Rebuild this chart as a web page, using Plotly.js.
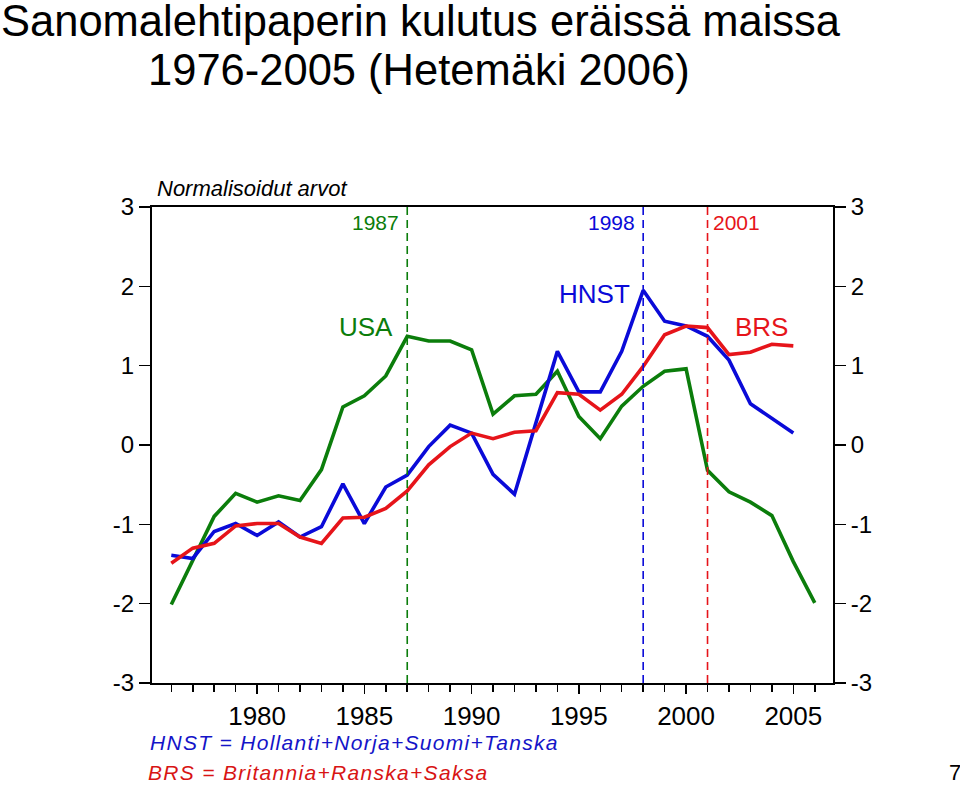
<!DOCTYPE html>
<html>
<head>
<meta charset="utf-8">
<script src="https://cdn.plot.ly/plotly-3.0.1.min.js"></script>
<style>html,body{margin:0;padding:0;background:#fff;}#chart{width:960px;height:786px;}</style>
</head>
<body>
<div id="chart"></div>
<script>
// ---- data ----
const yearsUSA = [1976,1977,1978,1979,1980,1981,1982,1983,1984,1985,1986,1987,1988,1989,1990,1991,1992,1993,1994,1995,1996,1997,1998,1999,2000,2001,2002,2003,2004,2005,2006];
const usa = [-2.01,-1.45,-0.90,-0.61,-0.72,-0.64,-0.70,-0.31,0.48,0.62,0.87,1.37,1.31,1.31,1.20,0.39,0.62,0.64,0.93,0.36,0.08,0.49,0.74,0.93,0.96,-0.32,-0.59,-0.72,-0.89,-1.47,-1.99];
const yearsEU = [1976,1977,1978,1979,1980,1981,1982,1983,1984,1985,1986,1987,1988,1989,1990,1991,1992,1993,1994,1995,1996,1997,1998,1999,2000,2001,2002,2003,2004,2005];
const hnst = [-1.39,-1.43,-1.09,-0.99,-1.14,-0.97,-1.16,-1.03,-0.49,-0.99,-0.53,-0.38,-0.02,0.25,0.15,-0.37,-0.62,0.29,1.18,0.67,0.67,1.18,1.95,1.56,1.50,1.37,1.07,0.52,0.34,0.15];
const brs = [-1.49,-1.30,-1.24,-1.02,-0.99,-0.99,-1.16,-1.24,-0.92,-0.91,-0.80,-0.58,-0.25,-0.02,0.15,0.08,0.16,0.18,0.66,0.64,0.44,0.64,0.99,1.39,1.50,1.48,1.14,1.17,1.27,1.25];
const xTickYears = [1980,1985,1990,1995,2000,2005];
const xTickLabels = ["1980","1985","1990","1995","2000","2005"];
const yTickVals = [-3,-2,-1,0,1,2,3];
const yTickLabels = ["-3","-2","-1","0","1","2","3"];
const breakYears = [1987,1998,2001];
const breakLabels = ["1987","1998","2001"];

const GREEN = '#0b7d0b', BLUE = '#0a0ad8', RED = '#e6141a';
const breakColors = [GREEN, BLUE, RED];
const FONT = 'Liberation Sans, Arial, Helvetica, sans-serif';

const traces = [
  {x: yearsUSA, y: usa, type:'scatter', mode:'lines', line:{color:GREEN, width:3.6}, name:'USA', hoverinfo:'skip'},
  {x: yearsEU, y: hnst, type:'scatter', mode:'lines', line:{color:BLUE, width:3.6}, name:'HNST', hoverinfo:'skip'},
  {x: yearsEU, y: brs, type:'scatter', mode:'lines', line:{color:RED, width:3.6}, name:'BRS', hoverinfo:'skip'},
  // invisible helper so that the right-hand axis is drawn with its ticks
  {x: yearsEU, y: brs, yaxis:'y2', type:'scatter', mode:'lines', line:{color:'rgba(0,0,0,0)', width:0}, showlegend:false, hoverinfo:'skip'}
];

const shapes = breakYears.map((yr,i)=>({
  type:'line', xref:'x', yref:'paper', x0:yr, x1:yr, y0:0, y1:1,
  line:{color:breakColors[i], width:1.6, dash:'8px,5px'}
}));

const annotations = [
  {xref:'paper', yref:'paper', x:-0.2225, y:1.390, xanchor:'left', yanchor:'middle', showarrow:false, borderpad:0,
   text:'Sanomalehtipaperin kulutus eräissä maissa', font:{family:FONT, size:43.5, color:'#000'}},
  {xref:'paper', yref:'paper', x:-0.008, y:1.287, xanchor:'left', yanchor:'middle', showarrow:false, borderpad:0,
   text:'1976-2005 (Hetemäki 2006)', font:{family:FONT, size:43.5, color:'#000'}},
  {xref:'paper', yref:'paper', x:0.004, y:1.038, xanchor:'left', yanchor:'middle', showarrow:false,
   text:'<i>Normalisoidut arvot</i>', font:{family:FONT, size:22, color:'#000'}},
  {xref:'x', yref:'paper', x:breakYears[0], y:0.967, xanchor:'right', yanchor:'middle', xshift:-6, showarrow:false,
   text:breakLabels[0], font:{family:FONT, size:21, color:GREEN}},
  {xref:'x', yref:'paper', x:breakYears[1], y:0.967, xanchor:'right', yanchor:'middle', xshift:-6, showarrow:false,
   text:breakLabels[1], font:{family:FONT, size:21, color:BLUE}},
  {xref:'x', yref:'paper', x:breakYears[2], y:0.967, xanchor:'left', yanchor:'middle', xshift:3, showarrow:false,
   text:breakLabels[2], font:{family:FONT, size:21, color:RED}},
  {xref:'x', yref:'y', x:1985.07, y:1.485, xanchor:'center', yanchor:'middle', showarrow:false,
   text:'USA', font:{family:FONT, size:26, color:GREEN}},
  {xref:'x', yref:'y', x:1995.73, y:1.90, xanchor:'center', yanchor:'middle', showarrow:false,
   text:'HNST', font:{family:FONT, size:26, color:BLUE}},
  {xref:'x', yref:'y', x:2003.5, y:1.484, xanchor:'center', yanchor:'middle', showarrow:false,
   text:'BRS', font:{family:FONT, size:26, color:RED}},
  {xref:'paper', yref:'paper', x:-0.006, y:-0.124, xanchor:'left', yanchor:'middle', showarrow:false,
   text:'<span style="letter-spacing:1.3px"><i>HNST = Hollanti+Norja+Suomi+Tanska</i></span>', font:{family:FONT, size:21, color:'#1414c8'}},
  {xref:'paper', yref:'paper', x:-0.009, y:-0.189, xanchor:'left', yanchor:'middle', showarrow:false,
   text:'<span style="letter-spacing:1.3px"><i>BRS = Britannia+Ranska+Saksa</i></span>', font:{family:FONT, size:21, color:'#d81414'}},
  {xref:'paper', yref:'paper', x:1.179, y:-0.187, xanchor:'center', yanchor:'middle', showarrow:false,
   text:'7', font:{family:FONT, size:22, color:'#000'}}
];

const yCommon = {
  range:[-3,3], tickmode:'array', tickvals:yTickVals, ticktext:yTickLabels,
  ticks:'outside', ticklen:11, tickwidth:1.5, tickcolor:'#000',
  showline:true, linecolor:'#000', linewidth:2, showgrid:false, zeroline:false,
  tickfont:{family:FONT, size:24, color:'#000'}, fixedrange:true
};

const layout = {
  width:960, height:786,
  margin:{l:152, r:127, t:207, b:103, pad:0},
  paper_bgcolor:'#fff', plot_bgcolor:'#fff',
  showlegend:false,
  xaxis:{
    range:[1975.1, 2006.85], tickmode:'array', tickvals:xTickYears, ticktext:xTickLabels,
    ticks:'outside', ticklen:9, tickwidth:1.5, tickcolor:'#000',
    minor:{tickmode:'linear', tick0:1976, dtick:1, ticks:'outside', ticklen:7, tickwidth:1.5, tickcolor:'#000', showgrid:false},
    showline:true, linecolor:'#000', linewidth:2, mirror:true, showgrid:false, zeroline:false,
    tickfont:{family:FONT, size:26, color:'#000'}, fixedrange:true
  },
  yaxis: Object.assign({side:'left'}, yCommon),
  yaxis2: Object.assign({side:'right', overlaying:'y', anchor:'x'}, yCommon),
  shapes: shapes,
  annotations: annotations
};

Plotly.newPlot('chart', traces, layout, {displayModeBar:false, staticPlot:true});
</script>
</body>
</html>
